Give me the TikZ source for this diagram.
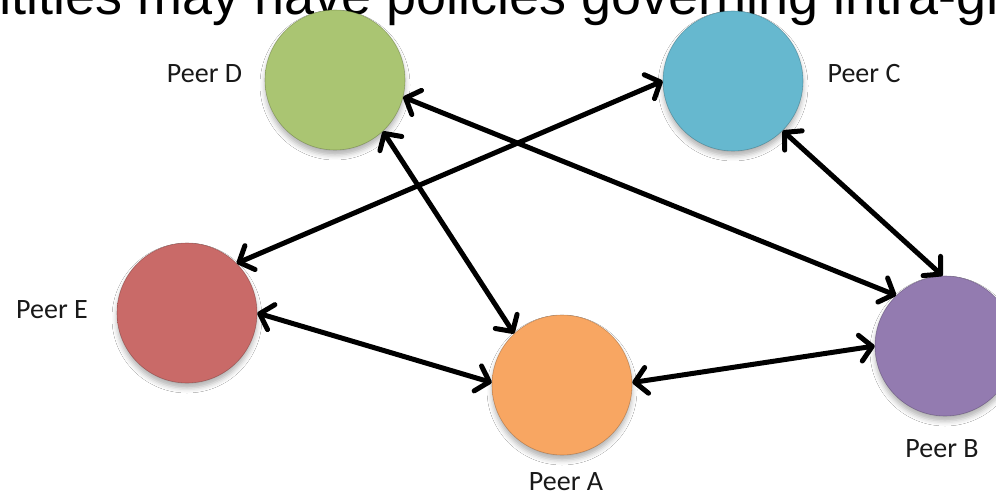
\documentclass[tikz,border=0pt]{standalone}
\usepackage{fontspec}
\setmainfont{Carlito}
\newfontfamily\arialfont{Liberation Sans}
\usetikzlibrary{arrows.meta,shadows.blur}
\definecolor{cD}{HTML}{9BBB59}
\definecolor{cC}{HTML}{4BACC6}
\definecolor{cE}{HTML}{C0504D}
\definecolor{cA}{HTML}{F79646}
\definecolor{cB}{HTML}{8064A2}
\colorlet{pin}{white}
\colorlet{pmid}{gray}
\colorlet{pout}{black}
\pgfdeclareradialshading[pin,pmid,pout]{peerball}{\pgfpoint{0bp}{8bp}}{color(0bp)=(pin); color(30bp)=(pin); color(46bp)=(pmid); color(52bp)=(pout)}
\tikzset{
  peer/.style={circle, minimum size=140pt, inner sep=0pt,
    /utils/exec={\colorlet{pin}{#1!85!white}\colorlet{pmid}{#1!97!black}\colorlet{pout}{#1!72!black}},
    shading=peerball, draw=#1!55!black, draw opacity=0.45, line width=0.6pt,
    blur shadow={shadow xshift=0pt, shadow yshift=-5pt, shadow blur radius=5pt, shadow opacity=30}},
  lab/.style={anchor=base, font=\fontsize{28}{30}\selectfont, text=black!90, inner sep=0pt},
  link/.style={line width=5pt, line cap=round, line join=round,
    {Straight Barb[length=12pt,width=26pt,round]}-{Straight Barb[length=12pt,width=26pt,round]}}
}
\begin{document}
\begin{tikzpicture}[x=1pt,y=-1pt]
\useasboundingbox (0,0) rectangle (996,497);
\clip (0,0) rectangle (996,497);
\fill[white] (0,0) rectangle (996,497);
\node[anchor=base west, inner sep=0pt, font=\arialfont\fontsize{54}{60}\selectfont] (title) at (-19,15) {ntities may have policies governing intra-gr};
\node[peer=cD] (D) at (335,80) {};
\node[peer=cC] (C) at (733,81) {};
\node[peer=cE] (E) at (187,313) {};
\node[peer=cA] (A) at (562,385) {};
\node[peer=cB] (B) at (945,346) {};
\node[lab] (lD) at (204.5,83) {Peer D};
\node[lab] (lC) at (864,83) {Peer C};
\node[lab] (lE) at (52,318) {Peer E};
\node[lab] (lA) at (566,490) {Peer A};
\node[lab] (lB) at (942,457) {Peer B};
\draw[link] (D.-47) -- (A.133);
\draw[link] (D.-14) -- (B.134);
\draw[link] (C.180) -- (E.45);
\draw[link] (C.-45) -- (B.92);
\draw[link] (E.0) -- (A.178);
\draw[link] (A.2) -- (B.180);
\end{tikzpicture}
\end{document}
